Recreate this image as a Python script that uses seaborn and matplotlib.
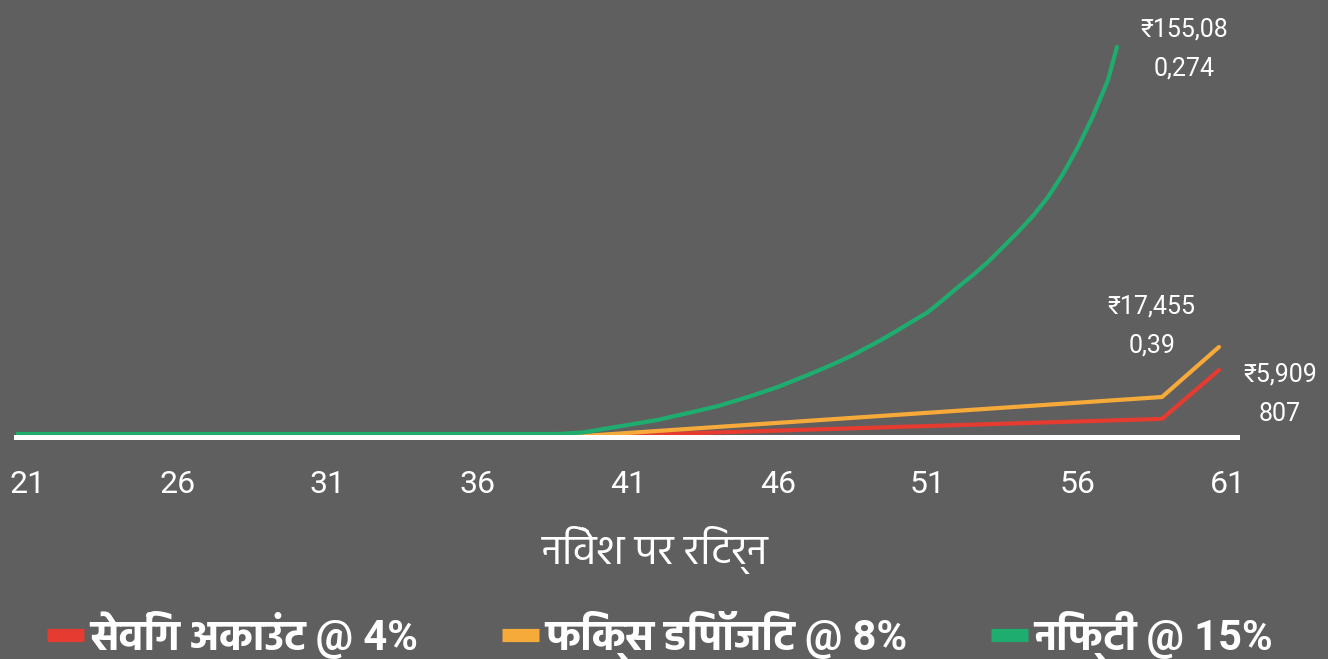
import matplotlib
matplotlib.use("Agg")
import matplotlib.pyplot as plt
from matplotlib import font_manager
from matplotlib.ft2font import FT2Font
import pandas as pd
import seaborn as sns

# ages (x) and corpus value in million rupees (y)
saving_age = [21, 39.5, 58.8, 60.7]
saving_value = [0.0, 0.2, 7.2, 26.6]

fd_age = [21, 39.5, 58.8, 60.7]
fd_value = [0.0, 0.4, 15.9, 35.8]

nifty_age = [20.6, 25, 30, 35, 38.7, 39.5, 40, 40.5, 41, 41.5, 42, 42.5, 43,
             43.5, 44, 44.5, 45, 45.5, 46, 46.5, 47, 47.5, 48, 48.5, 49, 49.5,
             50, 50.5, 51, 51.5, 52, 52.5, 53, 53.5, 54, 54.5, 55, 55.5, 56,
             56.5, 57, 57.3]
nifty_value = [1.2, 1.2, 1.2, 1.2, 1.2, 1.8, 2.8, 3.8, 4.8, 5.8, 6.8, 8.2, 9.5,
               10.9, 12.3, 14.1, 15.9, 17.9, 19.9, 22.3, 24.7, 27.2, 29.8, 32.6,
               35.8, 39.0, 42.5, 46.1, 49.7, 54.5, 59.6, 64.4, 69.6, 75.5, 81.5,
               87.9, 95.4, 104.6, 115.3, 127.6, 141.9, 155.1]

series_names = ["सेविंग अकाउंट @ 4%", "फिक्स डिपॉजिट @ 8%", "निफ्टी @ 15%"]
end_labels = ["₹5,909\n807", "₹17,455\n0,39", "₹155,08\n0,274"]
x_ticks = [21, 26, 31, 36, 41, 46, 51, 56, 61]
x_title = "निवेश पर रिटर्न"

colors = ["#e63b30", "#f6aa3a", "#1fad6f"]
bg = "#5f5f5f"


def devanagari_fonts():
    found = []
    for f in font_manager.fontManager.ttflist:
        try:
            cmap = FT2Font(f.fname).get_charmap()
        except Exception:
            continue
        if 0x0928 in cmap:
            found.append(f.name)
    return sorted(set(found))


deva = devanagari_fonts()
deva_family = ["Hind"] if "Hind" in deva else deva[:1]

sns.set_theme(style="white")
plt.rcParams["font.family"] = ["Roboto"] + deva_family + ["DejaVu Sans"]

df = pd.concat([
    pd.DataFrame({"age": saving_age, "value": saving_value, "plan": series_names[0]}),
    pd.DataFrame({"age": fd_age, "value": fd_value, "plan": series_names[1]}),
    pd.DataFrame({"age": nifty_age, "value": nifty_value, "plan": series_names[2]}),
])

fig = plt.figure(figsize=(13.28, 6.59), dpi=100, facecolor=bg)
ax = fig.add_axes([15.6 / 1328, 222 / 659, (1237 - 15.6) / 1328, 417 / 659])
ax.set_facecolor(bg)

sns.lineplot(data=df, x="age", y="value", hue="plan", palette=colors,
             estimator=None, sort=False, linewidth=3, ax=ax, legend=True)

ax.set_xlim(20.59, 61.3)
ax.set_ylim(0, 165.8)
ax.set_xticks(x_ticks)
ax.set_xticklabels([str(t) for t in x_ticks])
ax.set_yticks([])
ax.set_ylabel("")
ax.tick_params(axis="x", length=0, pad=24, labelsize=23, labelcolor="white")
for s in ["top", "left", "right"]:
    ax.spines[s].set_visible(False)
ax.spines["bottom"].set_color("white")
ax.spines["bottom"].set_linewidth(3.6)
ax.set_xlabel(x_title, fontsize=30, color="white")
ax.xaxis.set_label_coords(0.524, -0.214)

# value labels at the end of each line
offsets = [(61, -24), (-67, 21), (67, -2)]
for (xs, ys), lab, off in zip([(saving_age, saving_value), (fd_age, fd_value),
                               (nifty_age, nifty_value)], end_labels, offsets):
    ax.annotate(lab, (xs[-1], ys[-1]), xytext=(off[0] / 1.389, off[1] / 1.389),
                textcoords="offset points", ha="center", va="center",
                color="white", fontsize=18, linespacing=1.8)

handles, labels = ax.get_legend_handles_labels()
ax.get_legend().remove()
for h in handles:
    h.set_linewidth(9.5)
    h.set_solid_capstyle("butt")
leg = fig.legend(handles, labels, loc="lower center", ncol=3, frameon=False,
                 bbox_to_anchor=(0.497, -0.058), handlelength=0.9,
                 handletextpad=0.15, columnspacing=2.0,
                 prop={"size": 30, "weight": "bold"})
for t in leg.get_texts():
    t.set_color("white")

fig.savefig("out.png", dpi=100, facecolor=bg)
